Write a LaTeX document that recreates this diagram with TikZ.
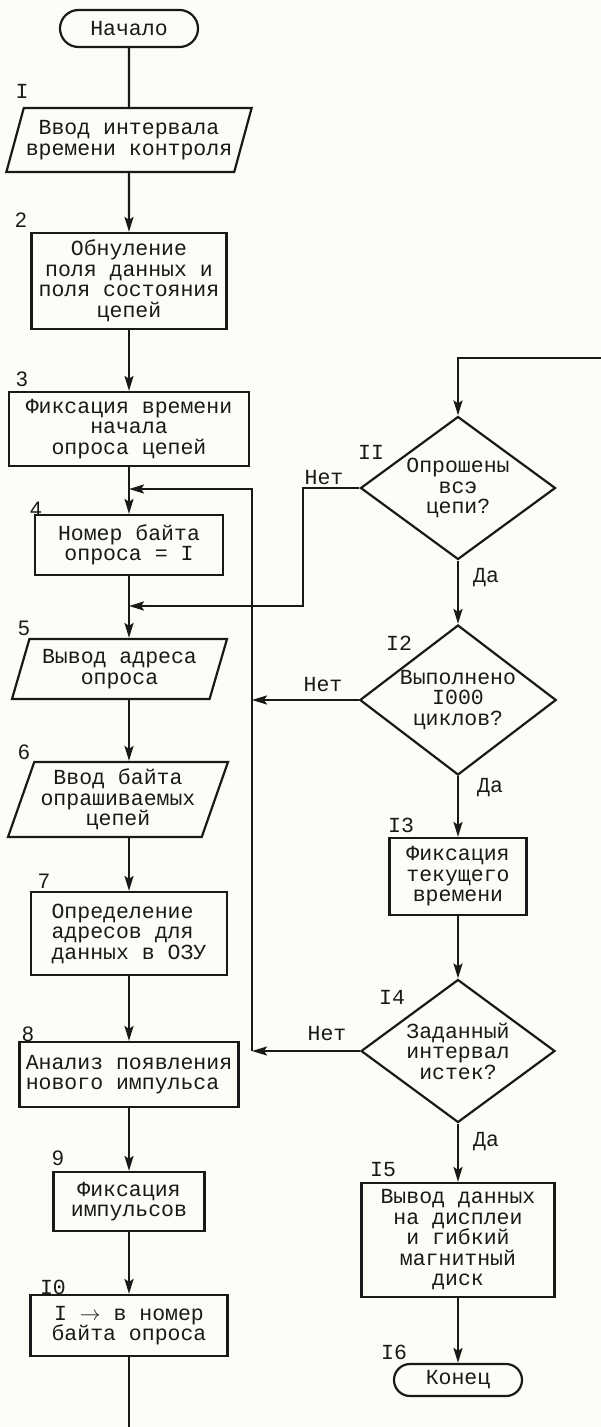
\documentclass[tikz,border=0pt]{standalone}
\usepackage{fontspec}
\newfontfamily\twfont{Liberation Mono}
\newfontfamily\numfont{Liberation Sans}
\usetikzlibrary{shapes.geometric,shapes.misc,arrows.meta}
\definecolor{paper}{RGB}{253,253,247}
\definecolor{ink}{RGB}{25,25,25}

\begin{document}
\begin{tikzpicture}[x=1pt,y=-1pt,color=ink,line width=2.2pt,
  >={Stealth[length=15pt,width=9pt,inset=3pt]},
  every node/.style={font=\twfont\fontsize{21.5}{20.5}\selectfont},
  proc/.style={draw,rectangle,inner sep=3pt,align=center},
  io/.style={draw,trapezium,trapezium left angle=68,trapezium right angle=112,
    trapezium stretches body,inner sep=2pt,align=center},
  test/.style={draw,diamond,aspect=1.35,inner sep=0pt,align=center},
  term/.style={draw,rounded rectangle,inner sep=2pt},
  num/.style={font=\numfont\fontsize{21}{21}\selectfont}]

\fill[paper] (0,0) rectangle (601,1427);
\useasboundingbox (0,0) rectangle (601,1427);

% left column
\node[term,minimum width=142pt,minimum height=37pt] (start) at (129,28.5) {Начало};
\node[io,minimum width=243pt,minimum height=64pt] (b1) at (129,140) {Ввод интервала\\времени контроля};
\node[proc,minimum width=195pt,minimum height=96pt] (b2) at (129,281) {Обнуление\\поля данных и\\поля состояния\\цепей};
\node[proc,minimum width=240pt,minimum height=74pt] (b3) at (129,429) {Фиксация времени\\начала\\опроса цепей};
\node[proc,minimum width=188pt,minimum height=60pt] (b4) at (129,545) {Номер байта\\опроса = I};
\node[io,minimum width=215pt,minimum height=60pt] (b5) at (119.5,669) {Вывод адреса\\опроса};
\node[io,minimum width=220pt,minimum height=75pt] (b6) at (118,799.5) {Ввод байта\\опрашиваемых\\цепей};
\node[proc,align=left,minimum width=196pt,minimum height=83pt] (b7) at (129,933.5) {Определение\\адресов для\\данных в ОЗУ};
\node[proc,align=left,minimum width=219pt,minimum height=65pt] (b8) at (129,1074.5) {Анализ появления\\нового импульса};
\node[proc,minimum width=151pt,minimum height=59pt] (b9) at (129,1201.5) {Фиксация\\импульсов};
\node[proc,minimum width=197pt,minimum height=61pt] (b10) at (129,1325.5) {I $\rightarrow$ в номер\\байта опроса};

% right column
\node[test,minimum width=195pt,minimum height=143pt] (d11) at (458,488) {Опрошены\\всэ\\цепи?};
\node[test,minimum width=194pt,minimum height=150pt] (d12) at (458,700) {Выполнено\\I000\\циклов?};
\node[proc,minimum width=137pt,minimum height=77pt] (b13) at (458,876.5) {Фиксация\\текущего\\времени};
\node[test,minimum width=194pt,minimum height=143pt] (d14) at (458,1051) {Заданный\\интервал\\истек?};
\node[proc,minimum width=193pt,minimum height=114pt] (b15) at (458,1240) {Вывод данных\\на дисплеи\\и гибкий\\магнитный\\диск};
\node[term,minimum width=132pt,minimum height=32pt] (stop) at (458,1380) {Конец};

% block numbers
\node (n1) at (22,91) {I};
\node[num] (n2) at (21,220) {2};
\node[num] (n3) at (22,379) {3};
\node[num] (n4) at (36,509) {4};
\node[num] (n5) at (24,628) {5};
\node[num] (n6) at (24,752) {6};
\node[num] (n7) at (44,881) {7};
\node[num] (n8) at (28,1034) {8};
\node[num] (n9) at (58,1158) {9};
\node (n10) at (53,1287) {I0};
\node (n11) at (371,452) {II};
\node (n12) at (399,643) {I2};
\node (n13) at (401,825) {I3};
\node (n14) at (392,997) {I4};
\node (n15) at (383,1170) {I5};
\node (n16) at (394,1352) {I6};

% branch labels
\node (no11) at (324,478) {Нет};
\node (no12) at (323,685) {Нет};
\node (no14) at (327,1034) {Нет};
\node (yes11) at (486,578) {Да};
\node (yes12) at (490,788) {Да};
\node (yes14) at (486,1142) {Да};

\coordinate (j3) at (129,489);
\coordinate (j4) at (129,606);
\coordinate (c11) at (303,488);
\coordinate (c12) at (252,700);
\coordinate (c14) at (252,1051);
\coordinate (top) at (601,358);
\coordinate (bot) at (129,1427);

\draw (start) -- (b1);
\draw[->] (b1) -- (b2);
\draw[->] (b2) -- (b3);
\draw[->] (b3) -- (b4);
\draw[->] (b4) -- (b5.north -| b4);
\draw[->] (b5.south -| b4) -- (b6.north -| b4);
\draw[->] (b6.south -| b4) -- (b7);
\draw[->] (b7) -- (b8);
\draw[->] (b8) -- (b9);
\draw[->] (b9) -- (b10);
\draw (b10) -- (bot);

\draw[->] (top) -| (d11);
\draw[->] (d11) -- (d12);
\draw[->] (d12) -- (b13);
\draw[->] (b13) -- (d14);
\draw[->] (d14) -- (b15);
\draw[->] (b15) -- (stop);

\draw[->] (d11.west) -- (c11) |- (j4);
\draw[->] (d12.west) -- (c12);
\draw[->] (d14.west) -- (c14);
\draw[->] (c14) |- (j3);

\end{tikzpicture}
\end{document}
